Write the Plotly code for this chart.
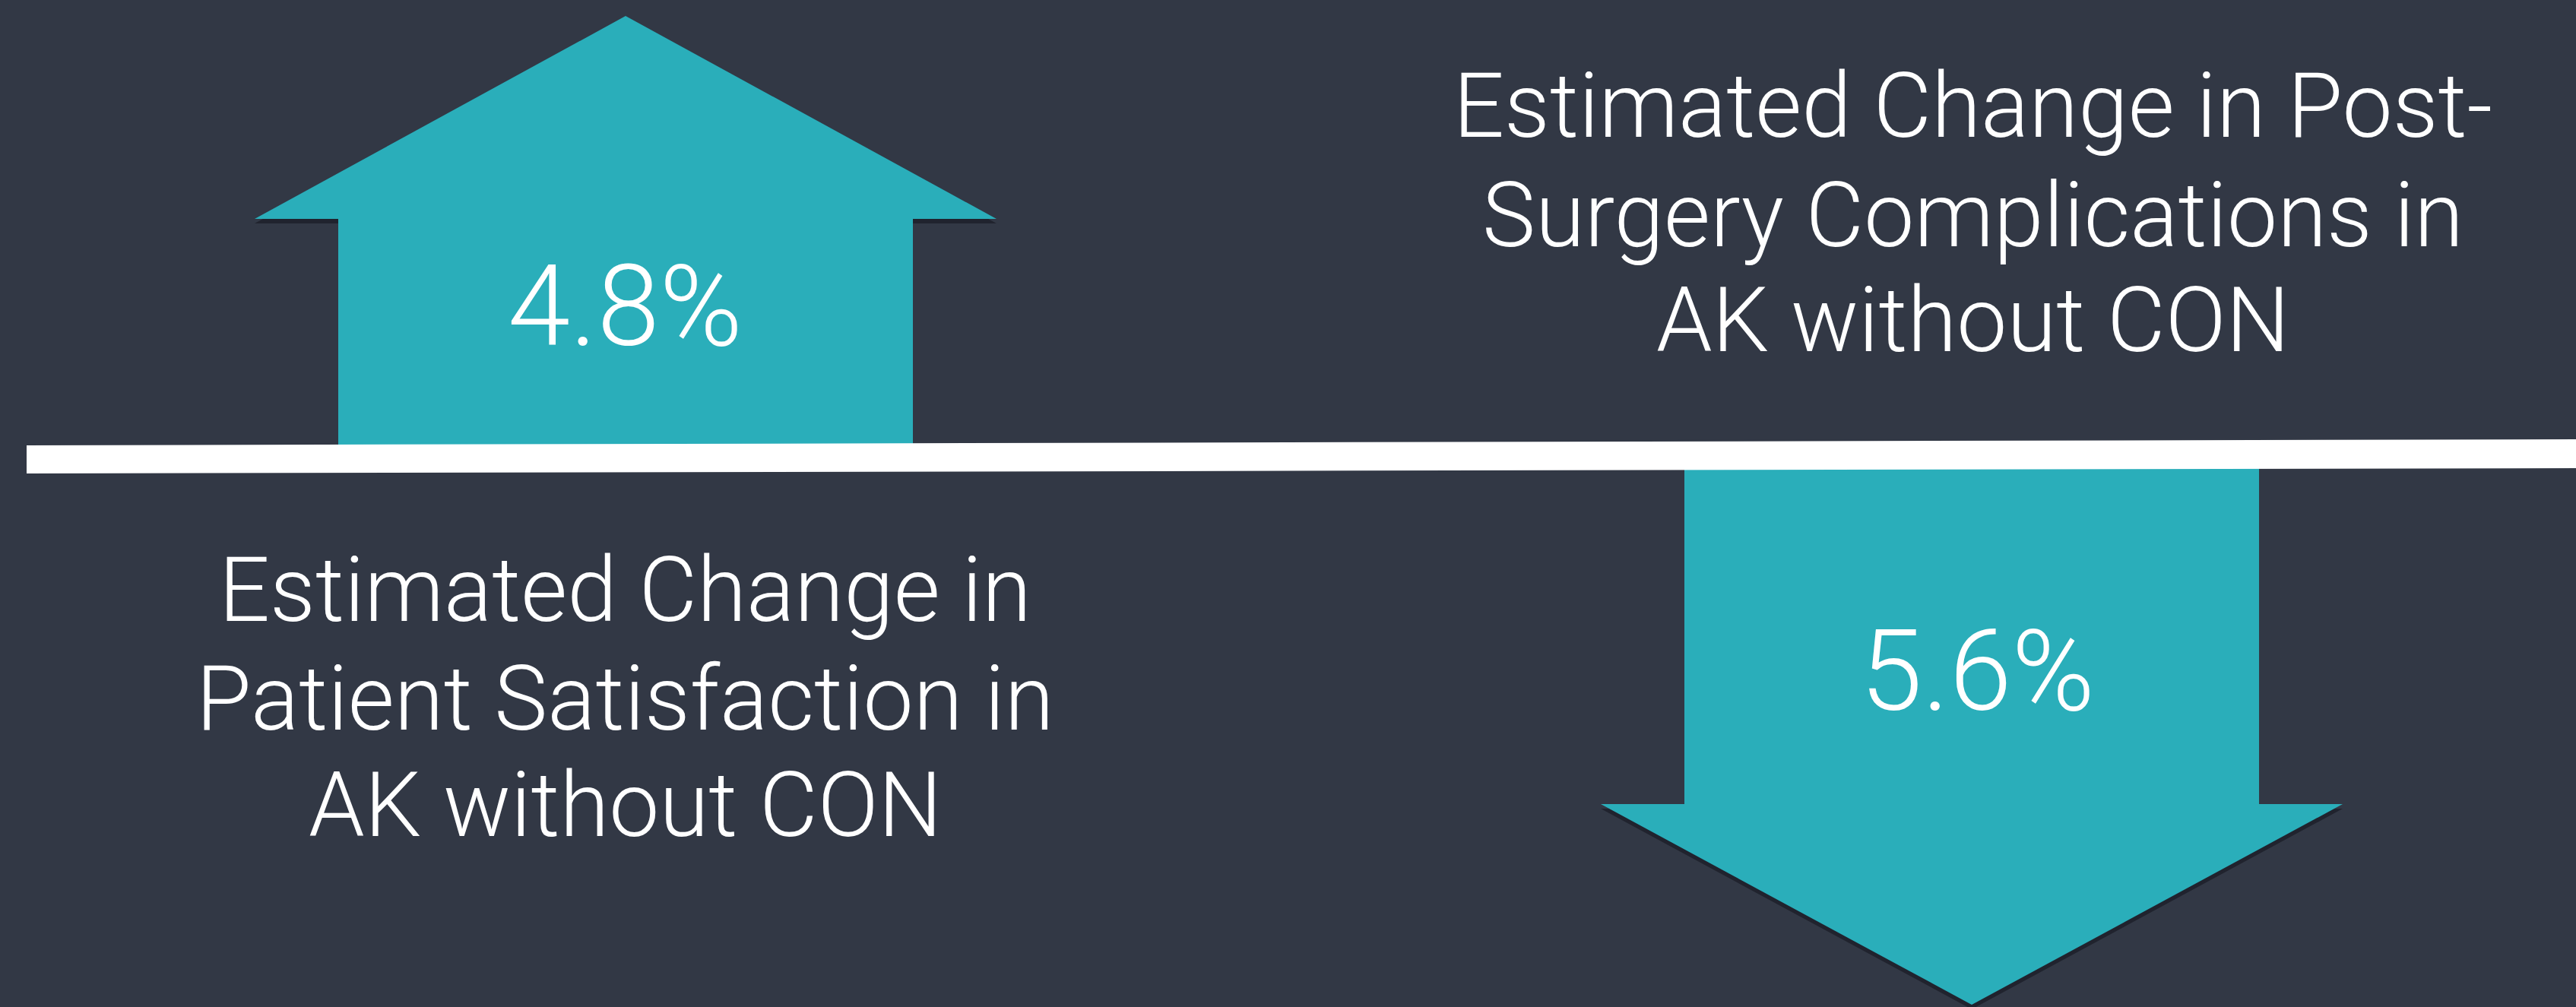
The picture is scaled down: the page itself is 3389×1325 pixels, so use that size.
import plotly.graph_objects as go

# ---- data ----
metrics = ["Patient Satisfaction", "Post-Surgery Complications"]
changes = [4.8, 5.6]
directions = ["up", "down"]
label_lines_left = ["Estimated Change in", "Patient Satisfaction in", "AK without CON"]
label_lines_right = ["Estimated Change in Post-", "Surgery Complications in", "AK without CON"]

# ---- style / layout constants ----
W, H = 3389, 1325
BG = "#323845"
TEAL = "#2AAEBA"
WHITE = "#FFFFFF"
FONT = "Roboto"
SHAFT_HALF = 378
HEAD_HALF = 488
BASE_Y = 600

fig = go.Figure()


def arrow_path(cx, tip_y, head_y, base_y):
    xs = [cx, cx + HEAD_HALF, cx + SHAFT_HALF, cx + SHAFT_HALF, cx - SHAFT_HALF, cx - SHAFT_HALF, cx - HEAD_HALF, cx]
    ys = [tip_y, head_y, head_y, base_y, base_y, head_y, head_y, tip_y]
    return xs, ys


arrow_geom = {
    "up": dict(cx=823, tip_y=21, head_y=288),
    "down": dict(cx=2594, tip_y=1322, head_y=1058),
}

for val, d in zip(changes, directions):
    g = arrow_geom[d]
    sgn = 1 if d == "up" else -1
    # soft shadow
    xs, ys = arrow_path(g["cx"], g["tip_y"] + 6 * (1 if d == "up" else 1), g["head_y"] + 6, BASE_Y)
    fig.add_trace(go.Scatter(x=xs, y=ys, fill="toself", fillcolor="rgba(10,12,18,0.45)",
                             line=dict(width=0), mode="lines", hoverinfo="skip", showlegend=False))
    xs, ys = arrow_path(g["cx"], g["tip_y"], g["head_y"], BASE_Y)
    fig.add_trace(go.Scatter(x=xs, y=ys, fill="toself", fillcolor=TEAL,
                             line=dict(width=0), mode="lines", hoverinfo="skip", showlegend=False))

# white baseline (slightly tilted)
fig.add_trace(go.Scatter(x=[35, W, W, 35, 35], y=[586, 578, 616, 623, 586], fill="toself",
                         fillcolor=WHITE, line=dict(width=0), mode="lines",
                         hoverinfo="skip", showlegend=False))

# value labels
value_pos = {"up": (822, 403), "down": (2601, 883)}
for val, d in zip(changes, directions):
    x, y = value_pos[d]
    fig.add_annotation(x=x, y=y, text=f"{val:.1f}%", showarrow=False, xanchor="center", yanchor="middle",
                       font=dict(family=FONT, size=148, color=WHITE, weight=300))

# descriptive labels
for i, line in enumerate(label_lines_left):
    fig.add_annotation(x=822, y=[777, 920, 1060][i], text=line, showarrow=False,
                       xanchor="center", yanchor="middle",
                       font=dict(family=FONT, size=118, color=WHITE, weight=300))
for i, line in enumerate(label_lines_right):
    fig.add_annotation(x=2595, y=[140, 284, 422][i], text=line, showarrow=False,
                       xanchor="center", yanchor="middle",
                       font=dict(family=FONT, size=118, color=WHITE, weight=300))

fig.update_layout(
    width=W, height=H, margin=dict(l=0, r=0, t=0, b=0),
    paper_bgcolor=BG, plot_bgcolor=BG,
    xaxis=dict(range=[0, W], visible=False, fixedrange=True),
    yaxis=dict(range=[H, 0], visible=False, fixedrange=True),
)

fig.write_html("out.html", config={"displayModeBar": False},
               post_script="document.body.style.margin='0';document.body.style.background='#323845';")
